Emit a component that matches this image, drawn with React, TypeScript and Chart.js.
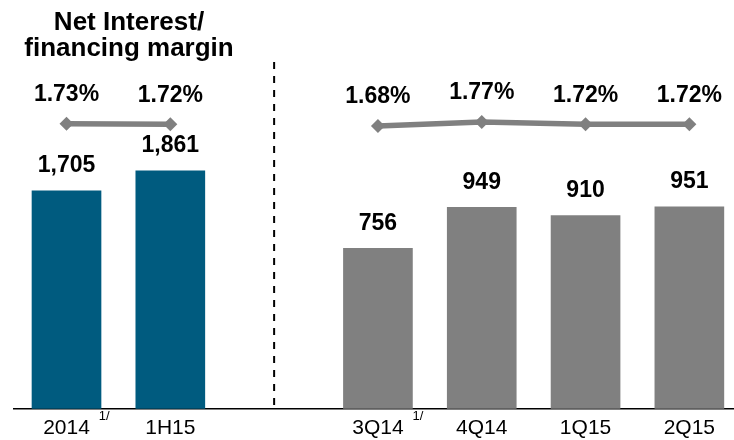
import React, { useEffect, useRef } from "react";
import { Chart, registerables } from "chart.js";

Chart.register(...registerables);

const categories = ["2014", "1H15", "", "3Q14", "4Q14", "1Q15", "2Q15"];
const footnoted = ["2014", "3Q14"];
const footnoteMark = "1/";
const titleLines = ["Net Interest/", "financing margin"];

const periodLabels = ["2014", "1H15"];
const periodIncome = [1705, 1861];
const periodMargin = [1.73, 1.72];

const quarterLabels = ["3Q14", "4Q14", "1Q15", "2Q15"];
const quarterIncome = [756, 949, 910, 951];
const quarterMargin = [1.68, 1.77, 1.72, 1.72];

const TEAL = "#005B7F";
const GRAY = "#808080";
const FONT = "'Liberation Sans', Arial, Helvetica, sans-serif";

const idx = (c: string) => categories.indexOf(c);

const labelsPlugin = {
  id: "customLabels",
  afterDatasetsDraw(chart: any) {
    const ctx = chart.ctx;
    ctx.save();
    [0, 1].forEach((di) => {
      const meta = chart.getDatasetMeta(di);
      const ds = chart.data.datasets[di];
      meta.data.forEach((el: any, i: number) => {
        const v = ds.data[i].y;
        ctx.font = `bold 23px ${FONT}`;
        ctx.fillStyle = "#000";
        ctx.textAlign = "center";
        ctx.textBaseline = "middle";
        ctx.fillText(v.toLocaleString("en-US"), el.x, el.y - 25);
      });
    });
    [2, 3].forEach((di) => {
      const meta = chart.getDatasetMeta(di);
      const ds = chart.data.datasets[di];
      meta.data.forEach((el: any, i: number) => {
        const v = ds.data[i].y;
        ctx.font = `bold 23px ${FONT}`;
        ctx.fillStyle = "#000";
        ctx.textAlign = "center";
        ctx.textBaseline = "middle";
        ctx.fillText(v.toFixed(2) + "%", el.x, el.y - 29);
      });
    });
    const xs = chart.scales.x;
    const dx = xs.getPixelForValue(idx(""));
    ctx.strokeStyle = "#000";
    ctx.lineWidth = 2;
    ctx.setLineDash([7, 7]);
    ctx.beginPath();
    ctx.moveTo(dx, 62);
    ctx.lineTo(dx, chart.chartArea.bottom);
    ctx.stroke();
    ctx.setLineDash([]);
    footnoted.forEach((c) => {
      const px = xs.getPixelForValue(idx(c));
      ctx.font = `21px ${FONT}`;
      const w = ctx.measureText(c).width;
      ctx.font = `13px ${FONT}`;
      ctx.textAlign = "left";
      ctx.textBaseline = "top";
      ctx.fillStyle = "#000";
      ctx.fillText(footnoteMark, px + w / 2 + 9, chart.chartArea.bottom + 1);
    });
    ctx.font = `bold 26px ${FONT}`;
    ctx.textAlign = "center";
    ctx.textBaseline = "alphabetic";
    ctx.fillStyle = "#000";
    ctx.fillText(titleLines[0], 129, 30);
    ctx.fillText(titleLines[1], 129, 56);
    ctx.restore();
  },
};

export default function App() {
  const ref = useRef<HTMLCanvasElement | null>(null);
  useEffect(() => {
    if (!ref.current) return;
    const tickValues = categories
      .map((c, i) => (c ? i : null))
      .filter((v) => v !== null) as number[];
    const lineStyle = {
      type: "line",
      borderColor: GRAY,
      backgroundColor: GRAY,
      borderWidth: 5.5,
      pointStyle: "rectRot",
      pointRadius: 7,
      pointBorderWidth: 0,
      yAxisID: "yM",
      order: 1,
    };
    const chart = new Chart(ref.current, {
      type: "bar",
      data: {
        datasets: [
          {
            type: "bar",
            data: periodLabels.map((c, i) => ({ x: idx(c), y: periodIncome[i] })),
            backgroundColor: TEAL,
            yAxisID: "yH",
            barThickness: 69,
            grouped: false,
            order: 2,
          } as any,
          {
            type: "bar",
            data: quarterLabels.map((c, i) => ({ x: idx(c), y: quarterIncome[i] })),
            backgroundColor: GRAY,
            yAxisID: "yQ",
            barThickness: 69,
            grouped: false,
            order: 2,
          } as any,
          {
            ...lineStyle,
            data: periodLabels.map((c, i) => ({ x: idx(c), y: periodMargin[i] })),
          } as any,
          {
            ...lineStyle,
            data: quarterLabels.map((c, i) => ({ x: idx(c), y: quarterMargin[i] })),
          } as any,
        ],
      },
      options: {
        animation: false,
        responsive: false,
        maintainAspectRatio: false,
        layout: { autoPadding: false, padding: { left: 14, right: 0, top: 0, bottom: -8 } },
        plugins: {
          legend: { display: false },
          tooltip: { enabled: false },
        },
        scales: {
          x: {
            type: "linear",
            offset: false,
            min: -0.5058,
            max: 6.43,
            grid: { display: false, drawTicks: false, offset: false },
            border: { display: true, color: "#000", width: 1.5 },
            afterBuildTicks: (axis: any) => {
              axis.ticks = tickValues.map((v) => ({ value: v }));
            },
            afterFit: (s: any) => {
              s.paddingLeft = 0;
              s.paddingRight = 0;
            },
            ticks: {
              autoSkip: false,
              maxRotation: 0,
              padding: 7,
              color: "#000",
              font: { family: FONT, size: 21 },
              callback: (v: any) => categories[Number(v)] ?? "",
            },
          },
          yH: { type: "linear", display: false, min: 0, max: 3198 },
          yQ: { type: "linear", display: false, min: 0, max: 1925 },
          yM: { type: "linear", display: false, min: -4.607, max: 4.482 },
        },
      } as any,
      plugins: [labelsPlugin],
    });
    return () => chart.destroy();
  }, []);
  return (
    <div style={{ position: "absolute", left: 0, top: 0, width: 734, height: 440, background: "#fff" }}>
      <canvas ref={ref} width={734} height={440} style={{ width: 734, height: 440 }} />
    </div>
  );
}
